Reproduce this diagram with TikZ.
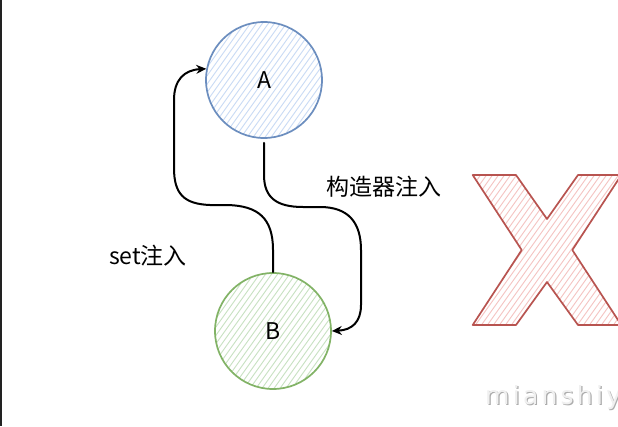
\documentclass[tikz,border=0pt]{standalone}
\usepackage{fontspec}
\setmainfont{Noto Sans CJK SC}
\newfontfamily\wmfont[LetterSpace=13]{DejaVu Sans}
\usetikzlibrary{arrows.meta}
\definecolor{blueline}{HTML}{6C8EBF}
\definecolor{bluehatch}{HTML}{C9DBF5}
\definecolor{greenline}{HTML}{82B366}
\definecolor{greenhatch}{HTML}{C8E2C2}
\definecolor{redline}{HTML}{B85450}
\definecolor{redhatch}{HTML}{F5C4C2}
\definecolor{barcol}{HTML}{222222}
\tikzset{
  hatched/.style={path picture={
    \foreach \i in {-300,-294,...,300}
      \draw[#1,line width=0.9pt] ([xshift=\i pt]path picture bounding box.center) ++(-110pt,-154pt) -- ++(220pt,308pt);
  }},
  ball/.style={circle,minimum size=116pt,inner sep=0pt,line width=1.7pt,font=\fontsize{23}{27}\selectfont},
  conn/.style={line width=2pt,black,line cap=round,-{Stealth[length=10pt,width=9pt]}},
  lbl/.style={font=\fontsize{23}{27}\selectfont,inner sep=0pt}
}
\begin{document}
\begin{tikzpicture}[x=1pt,y=-1pt]
\useasboundingbox (0,0) rectangle (618,426);
\fill[white] (0,0) rectangle (618,426);
\fill[barcol] (0,0) rectangle (2.2,426);

% X mark
\path[draw=redline,line width=1.7pt,line join=round,hatched=redhatch]
  (472.7,175) -- (516,175) -- (547,219) -- (578,175) -- (621.3,175) -- (572.3,250)
  -- (621.3,325) -- (578,325) -- (547,282) -- (516,325) -- (472.7,325) -- (521.7,250) -- cycle;

% nodes
\node[ball,draw=blueline,hatched=bluehatch] (A) at (264,80) {A};
\node[ball,draw=greenline,hatched=greenhatch] (B) at (273,331) {B};

% connectors
\draw[conn] (B.north) -- (273,250) .. controls (273,218) and (258,206) .. (228,205)
  -- (210,205) .. controls (184,204) and (174,194) .. (174,168) -- (174,100)
  .. controls (174,80) and (184,70) .. (A.169);
\draw[conn,shorten <=4pt] (A.south) -- (264,175) .. controls (264,198) and (277,207) .. (303,207)
  -- (320,207) .. controls (348,207) and (361,222) .. (361,250) -- (361,305)
  .. controls (361,322) and (352,330) .. (B.east);

% labels
\node[lbl] (lc) at (384,187) {构造器注入};
\node[lbl] (ls) at (148,256) {set注入};

% watermark
\node[anchor=base west,inner sep=0pt,text=gray!65,font=\wmfont\fontsize{25}{30}\selectfont] (wms) at (486.2,405.2) {mianshiy};
\node[anchor=base west,inner sep=0pt,text=gray!12,font=\wmfont\fontsize{25}{30}\selectfont] (wm) at (485,404) {mianshiy};
\end{tikzpicture}
\end{document}
